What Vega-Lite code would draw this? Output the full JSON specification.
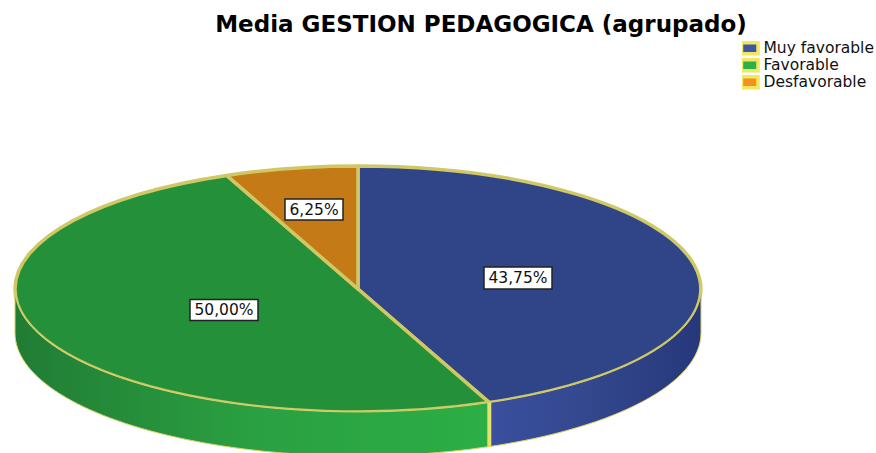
{"$schema":"https://vega.github.io/schema/vega-lite/v6.json","autosize":"none","padding":0,"width":876,"height":453,"background":"white","config":{"view":{"stroke":null}},"title":{"text":"Media GESTION PEDAGOGICA  (agrupado)","font":"DejaVu Sans","fontWeight":"bold","fontSize":23,"color":"#000000","frame":"group","anchor":"middle","dx":43,"dy":37,"offset":0},"data":{"values":[{"categoria":"Muy favorable","valor":43.75,"etiqueta":"43,75%"},{"categoria":"Favorable","valor":50,"etiqueta":"50,00%"},{"categoria":"Desfavorable","valor":6.25,"etiqueta":"6,25%"}]},"resolve":{"scale":{"shape":"independent"},"legend":{"shape":"independent"}},"layer":[{"mark":{"type":"point","filled":true,"opacity":1,"size":4,"stroke":"#CFC864","strokeWidth":3.5,"strokeJoin":"round"},"encoding":{"fill":{"field":"categoria","type":"nominal","legend":null,"scale":{"domain":["Favorable","Muy favorable","Desfavorable"],"range":["#25903A","#2F4588","#C47A17"]}},"shape":{"field":"categoria","type":"nominal","legend":null,"scale":{"domain":["Muy favorable","Favorable","Desfavorable"],"range":["M-80,62.5L-80,-60.5A343,123 0 0 1 51.3,176.1Z","M-80,62.5L51.3,176.1A343,123 0 0 1 -423,62.5A343,123 0 0 1 -211.3,-51.1Z","M-80,62.5L-211.3,-51.1A343,123 0 0 1 -80,-60.5Z"]}}}},{"transform":[{"filter":"datum.categoria==='Muy favorable'"}],"mark":{"type":"point","filled":true,"opacity":1,"size":4,"shape":"M51.3,176.1A343,123 0 0 0 263,62.5L263,106.5A343,123 0 0 1 51.3,220.1Z","stroke":"#D8D26A","strokeWidth":1,"fill":{"gradient":"linear","x1":0,"y1":0,"x2":1,"y2":0,"stops":[{"offset":0,"color":"#3A4F9E"},{"offset":0.45,"color":"#34488F"},{"offset":1,"color":"#26387A"}]}},"encoding":{}},{"transform":[{"filter":"datum.categoria==='Favorable'"}],"mark":{"type":"point","filled":true,"opacity":1,"size":4,"shape":"M-423,62.5A343,123 0 0 0 51.3,176.1L51.3,220.1A343,123 0 0 1 -423,106.5Z","stroke":"#D8D26A","strokeWidth":1,"fill":{"gradient":"linear","x1":0,"y1":0,"x2":1,"y2":0,"stops":[{"offset":0,"color":"#217C34"},{"offset":0.5,"color":"#2AA042"},{"offset":1,"color":"#2CAE45"}]}},"encoding":{}},{"transform":[{"filter":"datum.categoria==='Favorable'"}],"mark":{"type":"point","filled":false,"opacity":1,"size":4,"shape":"M51.3,176.1L51.3,220.1","stroke":"#E6E06C","strokeWidth":4},"encoding":{}},{"mark":{"type":"point","filled":true,"opacity":1,"size":0},"encoding":{"color":{"field":"categoria","type":"nominal","sort":null,"scale":{"domain":["Muy favorable","Favorable","Desfavorable"],"range":["#3F55A8","#2CB04A","#F5901E"]},"legend":{"title":null,"orient":"none","legendX":742,"legendY":40,"symbolType":"M-2.36,-1.57H2.36V1.57H-2.36Z","symbolSize":49,"symbolOpacity":1,"symbolStrokeColor":"#F0E860","symbolStrokeWidth":3.5,"labelFont":"DejaVu Sans","labelFontSize":15.5,"labelColor":"#111111","labelOffset":6,"rowPadding":0,"clipHeight":16.5,"labelLimit":200}}}},{"mark":{"type":"point","filled":false,"opacity":1,"size":4,"fill":"#FFFFFF","fillOpacity":1,"stroke":"#222222","strokeWidth":1.5},"encoding":{"x":{"field":"valor","type":"quantitative","axis":null,"scale":{"domain":[6.25,43.75,50],"range":[314,518,224]}},"y":{"field":"valor","type":"quantitative","axis":null,"scale":{"domain":[6.25,43.75,50],"range":[209.5,278,310]}},"shape":{"field":"categoria","type":"nominal","legend":null,"scale":{"domain":["Muy favorable","Favorable","Desfavorable"],"range":["M-34,-11H34V11H-34Z","M-34,-10.5H34V10.5H-34Z","M-29,-10.5H29V10.5H-29Z"]}}}},{"mark":{"type":"text","font":"DejaVu Sans","fontSize":15.5,"color":"#111111","align":"center","baseline":"middle"},"encoding":{"x":{"field":"valor","type":"quantitative","axis":null,"scale":{"domain":[6.25,43.75,50],"range":[314,518,224]}},"y":{"field":"valor","type":"quantitative","axis":null,"scale":{"domain":[6.25,43.75,50],"range":[209.5,278,310]}},"text":{"field":"etiqueta","type":"nominal"}}}]}
